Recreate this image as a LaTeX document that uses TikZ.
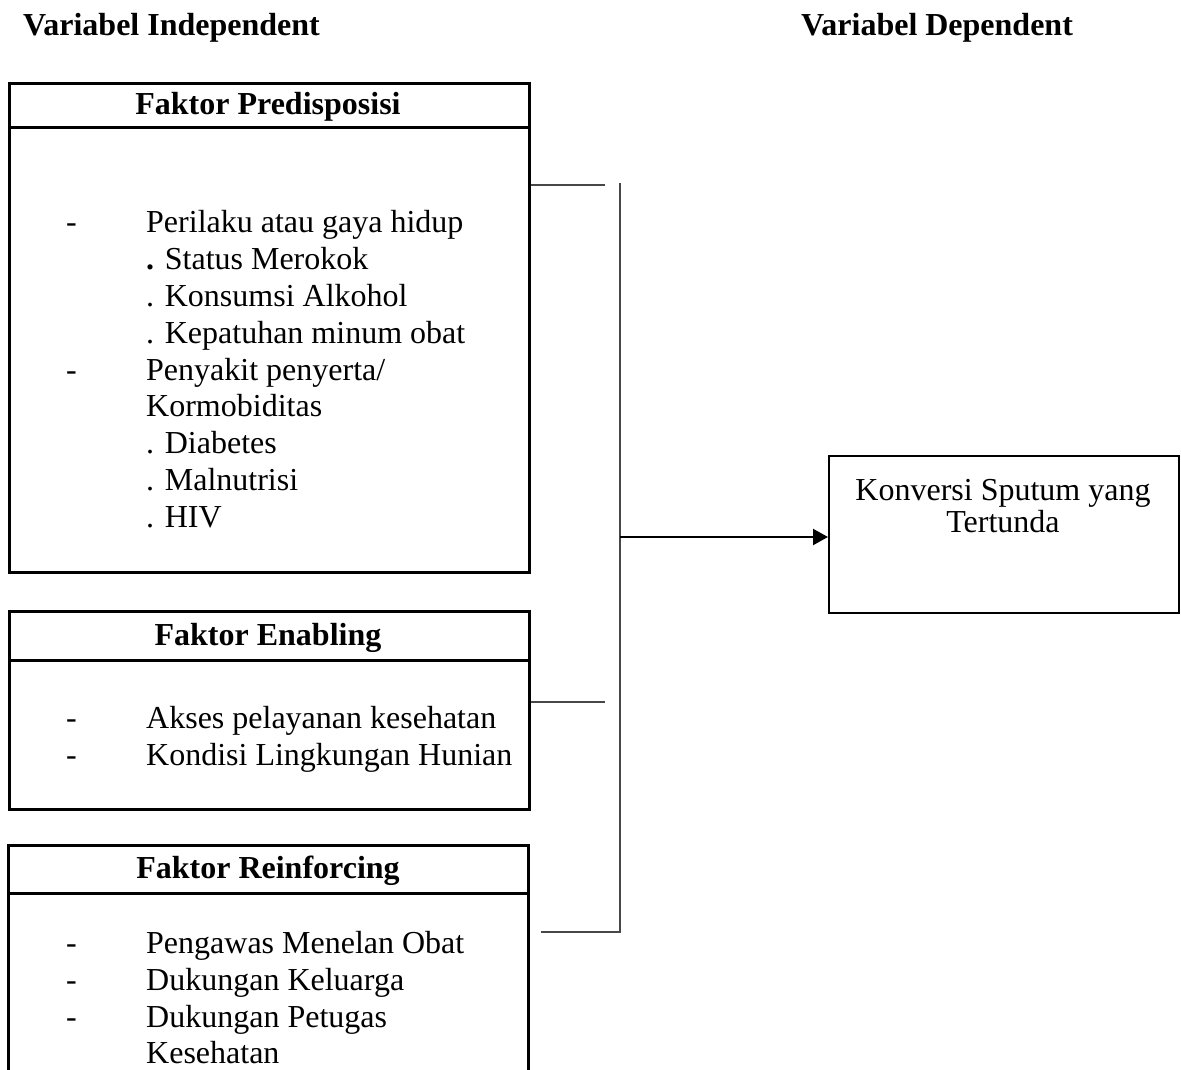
\documentclass[tikz,border=0pt]{standalone}
\usepackage{fontspec}
\setmainfont{Liberation Serif}
\usetikzlibrary{arrows.meta}
\begin{document}
\begin{tikzpicture}[x=1pt,y=1pt,
  box/.style={draw, line width=3pt, rectangle, inner sep=0},
  boxline/.style={line width=3pt},
  conn/.style={draw=black!72, line width=2.2pt},
  arr/.style={draw=black, line width=2.2pt, -{Triangle[length=15pt,width=16pt]}},
  txt/.style={anchor=base west, inner sep=0, font=\fontsize{32}{37}\selectfont},
  ctxt/.style={anchor=base, inner sep=0, font=\fontsize{32}{37}\selectfont},
  head/.style={anchor=base, inner sep=0, font=\fontsize{32}{37}\selectfont\bfseries},
  htxt/.style={anchor=base west, inner sep=0, font=\fontsize{32}{37}\selectfont\bfseries}]
\useasboundingbox (0,0) rectangle (1181,-1070);

% top labels
\node[htxt] (lind) at (23,-36) {Variabel Independent};
\node[htxt] (ldep) at (801,-36) {Variabel Dependent};

% Predisposisi box
\node[box, anchor=north west, minimum width=520pt, minimum height=489pt] (pred) at (8,-82) {};
\draw[boxline] ([yshift=-46pt]pred.north west) -- ([yshift=-46pt]pred.north east);
\node[head] (predh) at (268,-115) {Faktor Predisposisi};
\node[txt] (d1) at (66,-232) {-};
\node[txt] (p1) at (146,-232) {Perilaku atau gaya hidup};
\node[txt] (p2) at (146,-269) {\textbf{.} Status Merokok};
\node[txt] (p3) at (146,-306) {. Konsumsi Alkohol};
\node[txt] (p4) at (146,-343) {. Kepatuhan minum obat};
\node[txt] (d2) at (66,-380) {-};
\node[txt] (p5) at (146,-380) {Penyakit penyerta/};
\node[txt] (p6) at (146,-416) {Kormobiditas};
\node[txt] (p7) at (146,-453) {. Diabetes};
\node[txt] (p8) at (146,-490) {. Malnutrisi};
\node[txt] (p9) at (146,-527) {. HIV};

% Enabling box
\node[box, anchor=north west, minimum width=520pt, minimum height=198pt] (enab) at (8,-610) {};
\draw[boxline] ([yshift=-50pt]enab.north west) -- ([yshift=-50pt]enab.north east);
\node[head] (enabh) at (268,-645) {Faktor Enabling};
\node[txt] (d3) at (66,-728) {-};
\node[txt] (e1) at (146,-728) {Akses pelayanan kesehatan};
\node[txt] (d4) at (66,-765) {-};
\node[txt] (e2) at (146,-765) {Kondisi Lingkungan Hunian};

% Reinforcing box (open at the bottom)
\node[anchor=north west, inner sep=0, minimum width=520pt, minimum height=225pt] (reinf) at (8,-845) {};
\draw[boxline] (reinf.south west) -- (reinf.north west) -- (reinf.north east) -- (reinf.south east);
\draw[boxline] ([yshift=-48pt]reinf.north west) -- ([yshift=-48pt]reinf.north east);
\node[head] (reinfh) at (268,-878) {Faktor Reinforcing};
\node[txt] (d5) at (66,-953) {-};
\node[txt] (r1) at (146,-953) {Pengawas Menelan Obat};
\node[txt] (d6) at (66,-990) {-};
\node[txt] (r2) at (146,-990) {Dukungan Keluarga};
\node[txt] (d7) at (66,-1027) {-};
\node[txt] (r3) at (146,-1027) {Dukungan Petugas};
\node[txt] (r4) at (146,-1063) {Kesehatan};

% Dependent box
\node[draw, line width=2.2pt, rectangle, inner sep=0, anchor=north west, minimum width=350pt, minimum height=157pt] (sput) at (828,-455) {};
\node[ctxt] (s1) at (1003,-500) {Konversi Sputum yang};
\node[ctxt] (s2) at (1003,-532) {Tertunda};

% connectors
\coordinate (c1) at (605,-185);
\coordinate (c2) at (605,-702);
\coordinate (vtop) at (620,-183);
\coordinate (vbot) at (620,-932);
\coordinate (b1) at (541,-932);
\coordinate (am) at (620,-537);
\draw[conn] (pred.east |- c1) -- (c1);
\draw[conn] (enab.east |- c2) -- (c2);
\draw[conn] (vtop) -- (vbot) -- (b1);
\draw[arr] (am) -- (sput.west |- am);
\end{tikzpicture}
\end{document}
